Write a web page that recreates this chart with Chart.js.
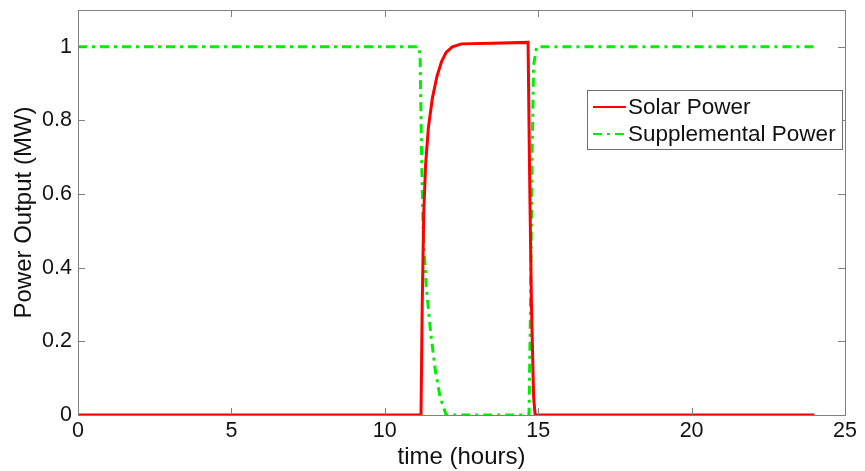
<!DOCTYPE html>
<html lang="en">
<head>
    <meta charset="UTF-8">
    <title>Power Output</title>
    <style>
        html, body { margin: 0; padding: 0; background: #fff; }
        #wrap { width: 865px; height: 471px; position: relative; }
    </style>
    <script src="https://cdn.jsdelivr.net/npm/chart.js"></script>
</head>
<body>
<div id="wrap"><canvas id="grafico" width="865" height="471"></canvas></div>
<script>
    // values (hours, MW)
    const solarTime  = [0, 11.18, 11.22, 11.27, 11.33, 11.42, 11.55, 11.7, 11.85, 12.0, 12.2, 12.5, 13.5, 14.67, 14.72, 14.78, 14.85, 14.9, 24];
    const solarPower = [0, 0, 0.3, 0.55, 0.68, 0.78, 0.86, 0.92, 0.96, 0.985, 1.0, 1.008, 1.01, 1.012, 0.65, 0.3, 0.05, 0, 0];

    const suppTime  = [0, 11.1, 11.15, 11.2, 11.25, 11.35, 11.5, 11.65, 11.8, 12.0, 14.7, 14.75, 14.8, 14.85, 14.95, 24];
    const suppPower = [1, 1, 0.98, 0.7, 0.5, 0.35, 0.22, 0.12, 0.05, 0, 0, 0.3, 0.7, 0.95, 1, 1];

    const xTicks = [0, 5, 10, 15, 20, 25];
    const yTicks = [0, 0.2, 0.4, 0.6, 0.8, 1];

    const fonte = '"Liberation Sans", Arial, sans-serif';

    function pares(xs, ys) {
        return xs.map((x, i) => ({ x: x, y: ys[i] }));
    }

    // MATLAB style box with inward ticks and a boxed legend
    const caixaMatlab = {
        id: 'caixaMatlab',
        afterDatasetsDraw(chart) {
            const ctx = chart.ctx;
            const a = chart.chartArea;
            const sx = chart.scales.x, sy = chart.scales.y;
            ctx.save();
            ctx.strokeStyle = '#808080';
            ctx.lineWidth = 1;
            ctx.strokeRect(a.left + 0.5, a.top + 0.5, a.right - a.left, a.bottom - a.top);
            ctx.beginPath();
            xTicks.forEach(v => {
                const px = Math.round(sx.getPixelForValue(v)) + 0.5;
                ctx.moveTo(px, a.bottom); ctx.lineTo(px, a.bottom - 7);
                ctx.moveTo(px, a.top); ctx.lineTo(px, a.top + 7);
            });
            yTicks.forEach(v => {
                const py = Math.round(sy.getPixelForValue(v)) + 0.5;
                ctx.moveTo(a.left, py); ctx.lineTo(a.left + 7, py);
                ctx.moveTo(a.right, py); ctx.lineTo(a.right - 7, py);
            });
            ctx.stroke();

            // legend
            const bx = 587, by = 90, bw = 255, bh = 59;
            ctx.fillStyle = '#fff';
            ctx.fillRect(bx, by, bw, bh);
            ctx.strokeStyle = '#707070';
            ctx.strokeRect(bx + 0.5, by + 0.5, bw, bh);
            ctx.font = '22.5px ' + fonte;
            ctx.textBaseline = 'middle';
            chart.data.datasets.forEach((ds, i) => {
                const ly = by + 17 + i * 27;
                ctx.strokeStyle = ds.borderColor;
                ctx.lineWidth = 2;
                ctx.setLineDash(ds.borderDash || []);
                ctx.beginPath();
                ctx.moveTo(bx + 6, ly); ctx.lineTo(bx + 39, ly);
                ctx.stroke();
                ctx.setLineDash([]);
                ctx.fillStyle = '#111';
                ctx.fillText(ds.label, bx + 41, ly + 1);
            });
            ctx.restore();
        }
    };

    new Chart(document.getElementById('grafico'), {
        type: 'line',
        data: {
            datasets: [
                {
                    label: 'Solar Power',
                    data: pares(solarTime, solarPower),
                    borderColor: '#ff0000',
                    borderWidth: 3,
                    pointRadius: 0,
                    tension: 0,
                    fill: false
                },
                {
                    label: 'Supplemental Power',
                    data: pares(suppTime, suppPower),
                    borderColor: '#00ee00',
                    borderWidth: 3,
                    borderDash: [9, 5, 3, 5],
                    pointRadius: 0,
                    tension: 0,
                    fill: false
                }
            ]
        },
        options: {
            responsive: false,
            animation: false,
            layout: { padding: { top: 10, right: 20, left: 0, bottom: 0 } },
            plugins: {
                legend: { display: false },
                tooltip: { enabled: false }
            },
            scales: {
                x: {
                    type: 'linear',
                    min: 0, max: 25,
                    afterBuildTicks: s => { s.ticks = xTicks.map(v => ({ value: v })); },
                    afterFit: s => { s.height = 56; },
                    grid: { display: false, drawTicks: false },
                    border: { display: false },
                    ticks: { color: '#111', font: { family: fonte, size: 21.5 }, padding: 3, maxRotation: 0 },
                    title: { display: true, text: 'time (hours)', color: '#111', font: { family: fonte, size: 24, lineHeight: 1.1 }, padding: { top: 0, bottom: 0 } }
                },
                y: {
                    min: 0, max: 1.1,
                    afterBuildTicks: s => { s.ticks = yTicks.map(v => ({ value: v })); },
                    afterFit: s => { s.width = 78; s.paddingTop = 0; s.paddingBottom = 0; },
                    grid: { display: false, drawTicks: false },
                    border: { display: false },
                    ticks: { color: '#111', font: { family: fonte, size: 21.5 }, padding: 6, callback: v => String(Math.round(v * 10) / 10) },
                    title: { display: true, text: 'Power Output (MW)', color: '#111', font: { family: fonte, size: 24, lineHeight: 1.1 }, padding: { top: 11, bottom: 0 } }
                }
            }
        },
        plugins: [caixaMatlab]
    });
</script>
</body>
</html>
